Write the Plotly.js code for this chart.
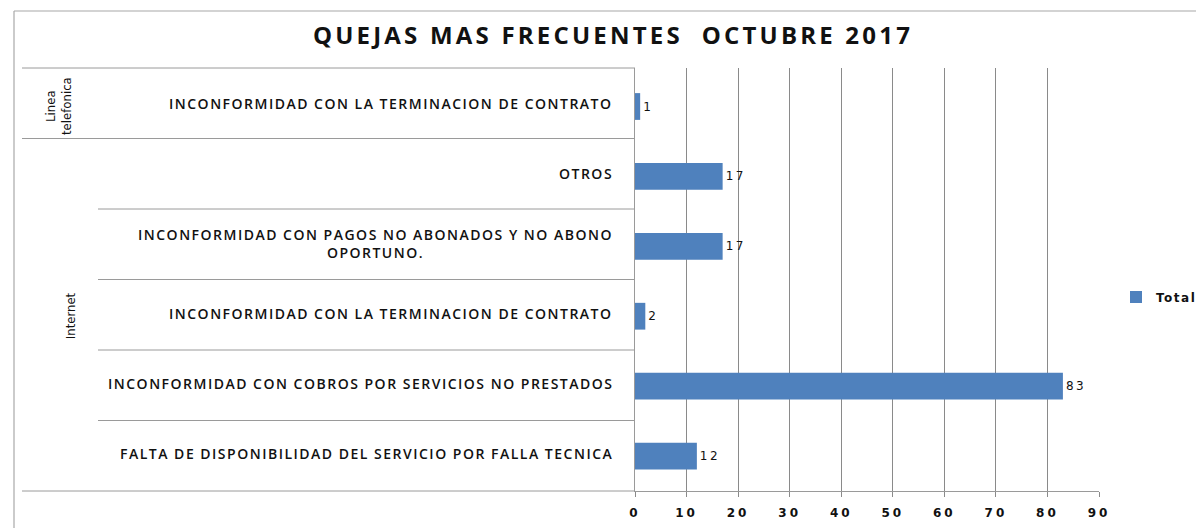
<!DOCTYPE html>
<html><head><meta charset="utf-8">
<script src="https://cdn.plot.ly/plotly-3.0.1.min.js"></script>
<style>
html,body{margin:0;padding:0;background:#fff;}
#chart{width:1196px;height:528px;}
.annotation-text{letter-spacing:1.5px;}
.annotation[data-index="0"] .annotation-text,.annotation[data-index="1"] .annotation-text{letter-spacing:0;}
.gtitle{letter-spacing:3.2px;}
.xtick text{letter-spacing:3px;}
.bartext{letter-spacing:2.5px;}
.legendtext{letter-spacing:1.5px;}
</style>
</head><body>
<div id="chart"></div>
<script>
// ---- data (top to bottom as shown) ----
const groups = ["Linea<br>telefonica","Internet","Internet","Internet","Internet","Internet"];
const categories = [
  "INCONFORMIDAD CON LA TERMINACION DE CONTRATO",
  "OTROS",
  "INCONFORMIDAD CON PAGOS NO ABONADOS Y NO ABONO<br>OPORTUNO.",
  "INCONFORMIDAD CON LA TERMINACION DE CONTRATO",
  "INCONFORMIDAD CON COBROS POR SERVICIOS NO PRESTADOS",
  "FALTA DE DISPONIBILIDAD DEL SERVICIO POR FALLA TECNICA"
];
const totals = [1, 17, 17, 2, 83, 12];
const xTicks = [0,10,20,30,40,50,60,70,80,90];
const seriesName = "Total";
const chartTitle = "QUEJAS MAS FRECUENTES  OCTUBRE 2017";

// ---- layout helpers ----
const W = 1196, H = 528;
const mL = 635, mR = 97, mT = 68, mB = 37;
const pw = W - mL - mR, ph = H - mT - mB;
const px = p => (p - mL) / pw;          // pixel x -> paper x
const py = p => (H - mB - p) / ph;      // pixel y -> paper y
const keys = categories.map((c, i) => groups[i] + "|" + i + "|" + c);

const gridCol = "#8a8a8a", lineCol = "#9a9a9a";
const labelFont = {family: "Open Sans, DejaVu Sans, sans-serif", size: 14, color: "#111", weight: 600};

const annotations = [];
// group labels
const uniqGroups = [...new Set(groups)];
const groupX = {"Linea<br>telefonica": 58, "Internet": 70};
uniqGroups.forEach(g => {
  const idx = groups.map((v, i) => v === g ? i : -1).filter(i => i >= 0);
  annotations.push({
    xref: "paper", yref: "y", x: 0, xshift: groupX[g] - mL, y: (idx[0] + idx[idx.length-1]) / 2,
    text: g, textangle: -90, showarrow: false, xanchor: "center", yanchor: "middle",
    font: {family: "DejaVu Sans Condensed, Liberation Sans Narrow, Liberation Sans, sans-serif", size: 13, color: "#111"}
  });
});
// category labels
keys.forEach((k, i) => {
  annotations.push({
    xref: "paper", yref: "y", x: 0, xshift: -20, yshift: 3, y: k, text: categories[i],
    showarrow: false, xanchor: "right", yanchor: "middle", align: "center", font: labelFont
  });
});

const shapes = [];
const x0Outer = px(22), x0Inner = px(98);
for (let b = 0; b <= categories.length; b++) {
  const isGroupEdge = b === 0 || b === categories.length || groups[b] !== groups[b-1];
  shapes.push({type: "line", xref: "paper", yref: "paper",
    x0: isGroupEdge ? x0Outer : x0Inner, x1: 0,
    y0: 1 - b / categories.length, y1: 1 - b / categories.length,
    line: {color: lineCol, width: 1}});
}
// outer chart border (left and top)
shapes.push({type: "line", xref: "paper", yref: "paper", x0: px(14), x1: px(14), y0: py(11), y1: py(H + 5), line: {color: "#a8a8a8", width: 1.2}});
shapes.push({type: "line", xref: "paper", yref: "paper", x0: px(14), x1: px(W + 5), y0: py(11), y1: py(11), line: {color: "#a8a8a8", width: 1.2}});

const trace = {
  type: "bar", orientation: "h", name: seriesName,
  y: keys, x: totals,
  marker: {color: "#4F81BD"},
  text: totals.map(String), textposition: "outside", cliponaxis: false,
  textfont: {family: "DejaVu Sans, Verdana, sans-serif", size: 12, color: "#111"},
  hoverinfo: "none", showlegend: true
};

const layout = {
  width: W, height: H,
  margin: {l: mL, r: mR, t: mT, b: mB, pad: 0, autoexpand: false},
  paper_bgcolor: "#fff", plot_bgcolor: "#fff",
  title: {text: "<b>" + chartTitle + "</b>", xref: "container", yref: "container",
    x: 613 / W, y: 1 - 36 / H, xanchor: "center", yanchor: "middle",
    font: {family: "Open Sans, sans-serif", size: 24, color: "#111"}},
  bargap: 0.617,
  xaxis: {range: [0, 90], tickvals: xTicks, ticktext: xTicks.map(String),
    showgrid: true, gridcolor: gridCol, gridwidth: 1, zeroline: false,
    showline: true, linecolor: lineCol, linewidth: 1,
    ticks: "outside", ticklen: 5, tickcolor: gridCol, ticklabelstandoff: 6,
    tickfont: {family: "DejaVu Sans, Verdana, sans-serif", size: 12, color: "#111", weight: "bold"}, fixedrange: true},
  yaxis: {type: "category", autorange: "reversed", showticklabels: false, ticks: "",
    showgrid: false, zeroline: false, showline: true, linecolor: lineCol, linewidth: 1, fixedrange: true},
  showlegend: true,
  legend: {x: px(1116), y: py(297), xanchor: "left", yanchor: "middle", itemwidth: 30,
    font: {family: "DejaVu Sans, Verdana, sans-serif", size: 12, color: "#111", weight: "bold"}, bgcolor: "rgba(0,0,0,0)"},
  annotations: annotations,
  shapes: shapes
};

Plotly.newPlot("chart", [trace], layout, {displayModeBar: false, staticPlot: true});
</script>
</body></html>
